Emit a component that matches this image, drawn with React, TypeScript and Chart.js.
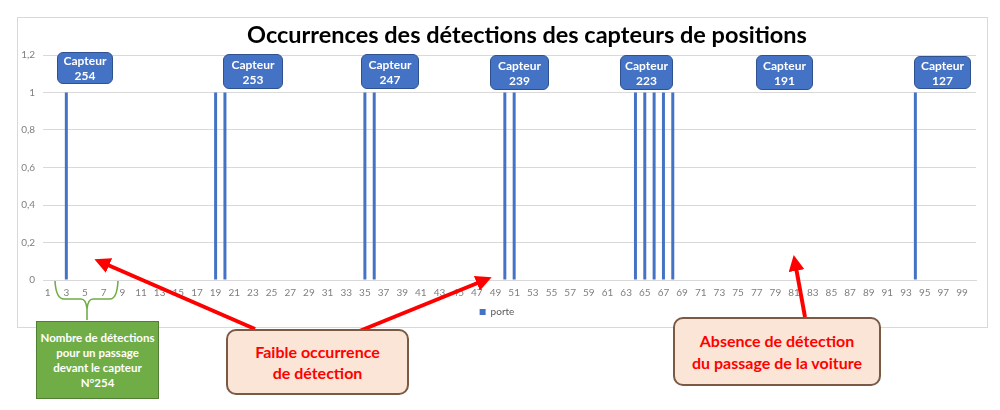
import React, { useEffect, useRef } from 'react';
import { Chart, registerables } from 'chart.js';

Chart.register(...registerables);

const titleText = 'Occurrences des détections des capteurs de positions';
const seriesName = 'porte';

// x categories (passages 1..100)
const positions = [
  '1', '2', '3', '4', '5', '6', '7', '8', '9', '10',
  '11', '12', '13', '14', '15', '16', '17', '18', '19', '20',
  '21', '22', '23', '24', '25', '26', '27', '28', '29', '30',
  '31', '32', '33', '34', '35', '36', '37', '38', '39', '40',
  '41', '42', '43', '44', '45', '46', '47', '48', '49', '50',
  '51', '52', '53', '54', '55', '56', '57', '58', '59', '60',
  '61', '62', '63', '64', '65', '66', '67', '68', '69', '70',
  '71', '72', '73', '74', '75', '76', '77', '78', '79', '80',
  '81', '82', '83', '84', '85', '86', '87', '88', '89', '90',
  '91', '92', '93', '94', '95', '96', '97', '98', '99', '100',
];

// detections (0 / 1)
const porte = [
  0, 0, 1, 0, 0, 0, 0, 0, 0, 0,
  0, 0, 0, 0, 0, 0, 0, 0, 1, 1,
  0, 0, 0, 0, 0, 0, 0, 0, 0, 0,
  0, 0, 0, 0, 1, 1, 0, 0, 0, 0,
  0, 0, 0, 0, 0, 0, 0, 0, 0, 1,
  1, 0, 0, 0, 0, 0, 0, 0, 0, 0,
  0, 0, 0, 1, 1, 1, 1, 1, 0, 0,
  0, 0, 0, 0, 0, 0, 0, 0, 0, 0,
  0, 0, 0, 0, 0, 0, 0, 0, 0, 0,
  0, 0, 0, 1, 0, 0, 0, 0, 0, 0,
];

const yTicks = [0, 0.2, 0.4, 0.6, 0.8, 1, 1.2];

const capteurs = ['254', '253', '247', '239', '223', '191', '127'];

const FONT = 'Lato, "Open Sans", sans-serif';

// callout boxes drawn over the chart (page coordinates)
const capteurBoxes: { left: number; top: number; w: number; h: number }[] = [
  { left: 57, top: 52, w: 56, h: 32 },
  { left: 223, top: 54, w: 60, h: 35 },
  { left: 361, top: 54, w: 58, h: 35 },
  { left: 490, top: 55, w: 59, h: 35 },
  { left: 620, top: 55, w: 53, h: 35 },
  { left: 756, top: 55, w: 57, h: 35 },
  { left: 914, top: 56, w: 57, h: 33 },
];

const App: React.FC = () => {
  const canvasRef = useRef<HTMLCanvasElement | null>(null);

  useEffect(() => {
    const ctx = canvasRef.current?.getContext('2d');
    if (!ctx) return;

    const chart = new Chart(ctx, {
      type: 'bar',
      data: {
        labels: positions,
        datasets: [
          {
            label: seriesName,
            data: porte,
            backgroundColor: '#4472C4',
            borderWidth: 0,
            barPercentage: 0.32,
            categoryPercentage: 1,
          },
        ],
      },
      options: {
        responsive: true,
        maintainAspectRatio: false,
        animation: false,
        layout: { padding: { left: 0, right: 11, top: 37, bottom: 0 } },
        plugins: {
          title: { display: false },
          legend: {
            display: true,
            position: 'bottom',
            labels: {
              boxWidth: 6,
              boxHeight: 6,
              color: '#595959',
              font: { family: FONT, size: 10 },
              padding: 5,
            },
          },
          tooltip: { enabled: false },
        },
        scales: {
          x: {
            grid: { display: false, drawTicks: false },
            border: { display: true, color: '#d9d9d9' },
            ticks: {
              autoSkip: false,
              maxRotation: 0,
              color: '#7f7f7f',
              font: { family: FONT, size: 10 },
              padding: 7,
              callback: (_v, i) => (i % 2 === 0 ? positions[i] : ''),
            },
            afterFit: (s) => {
              s.height = 22;
            },
          },
          y: {
            min: 0,
            max: 1.2,
            afterBuildTicks: (s) => {
              s.ticks = yTicks.map((v) => ({ value: v }));
            },
            grid: { color: '#d9d9d9', drawTicks: false },
            border: { display: false },
            ticks: {
              color: '#7f7f7f',
              font: { family: FONT, size: 10 },
              padding: 8,
              callback: (v) => String(Number(Number(v).toFixed(1))).replace('.', ','),
            },
            afterFit: (s) => {
              s.width = 25;
            },
          },
        },
      },
    });

    return () => chart.destroy();
  }, []);

  return (
    <div style={{ position: 'absolute', left: 0, top: 0, width: 1000, height: 410, background: '#fff', overflow: 'hidden', fontFamily: FONT }}>
      <div
        style={{
          position: 'absolute',
          left: 17,
          top: 17,
          width: 971,
          height: 311,
          border: '1px solid #d9d9d9',
          boxSizing: 'border-box',
          background: '#fff',
        }}
      >
        <div style={{ position: 'relative', width: 969, height: 309 }}>
          <canvas ref={canvasRef} />
        </div>
      </div>

      <div
        style={{
          position: 'absolute',
          left: 227,
          top: 19,
          width: 600,
          textAlign: 'center',
          fontSize: 23.5,
          fontWeight: 700,
          lineHeight: '30px',
          color: '#000',
        }}
      >
        {titleText}
      </div>

      {capteurs.map((c, i) => {
        const b = capteurBoxes[i];
        return (
          <div
            key={c}
            style={{
              position: 'absolute',
              left: b.left,
              top: b.top,
              width: b.w,
              height: b.h,
              boxSizing: 'border-box',
              background: '#4472C4',
              border: '1px solid #2F528F',
              borderRadius: 6,
              color: '#fff',
              fontWeight: 700,
              fontSize: 12,
              lineHeight: '15px',
              display: 'flex',
              flexDirection: 'column',
              alignItems: 'center',
              justifyContent: 'center',
              textAlign: 'center',
            }}
          >
            <div>Capteur</div>
            <div>{c}</div>
          </div>
        );
      })}

      <svg width={1000} height={410} style={{ position: 'absolute', left: 0, top: 0 }}>
        <defs>
          <marker id="head" markerWidth="4" markerHeight="4" refX="2.2" refY="2" orient="auto" markerUnits="strokeWidth">
            <path d="M0,0 L4,2 L0,4 Z" fill="#FF0000" />
          </marker>
        </defs>
        {/* brace under categories 3..7 */}
        <path
          d="M55,281 Q56,299 64,299 L81,299 Q86,299 87,309 L87,320 M87,309 Q88,299 93,299 L110,299 Q117,299 118,281"
          fill="none"
          stroke="#70AD47"
          strokeWidth={1.6}
        />
        <line x1={255} y1={329} x2={101} y2={262} stroke="#FF0000" strokeWidth={4} markerEnd="url(#head)" />
        <line x1={357} y1={332} x2={485} y2={280} stroke="#FF0000" strokeWidth={4} markerEnd="url(#head)" />
        <line x1={805} y1={317} x2={795} y2={262} stroke="#FF0000" strokeWidth={4} markerEnd="url(#head)" />
      </svg>

      <div
        style={{
          position: 'absolute',
          left: 36,
          top: 321,
          width: 123,
          height: 78,
          boxSizing: 'border-box',
          background: '#70AD47',
          border: '1px solid #507E32',
          color: '#fff',
          fontWeight: 700,
          fontSize: 11.5,
          lineHeight: '15px',
          display: 'flex',
          flexDirection: 'column',
          alignItems: 'center',
          justifyContent: 'center',
          textAlign: 'center',
        }}
      >
        <div>Nombre de détections</div>
        <div>pour un passage</div>
        <div>devant le capteur</div>
        <div>N°254</div>
      </div>

      <div
        style={{
          position: 'absolute',
          left: 226,
          top: 329,
          width: 183,
          height: 66,
          boxSizing: 'border-box',
          background: '#FBE5D6',
          border: '2px solid #7A5A45',
          borderRadius: 10,
          color: '#FF0000',
          fontWeight: 700,
          fontSize: 16,
          lineHeight: '21px',
          display: 'flex',
          flexDirection: 'column',
          alignItems: 'center',
          justifyContent: 'center',
          textAlign: 'center',
        }}
      >
        <div>Faible occurrence</div>
        <div>de détection</div>
      </div>

      <div
        style={{
          position: 'absolute',
          left: 673,
          top: 317,
          width: 208,
          height: 69,
          boxSizing: 'border-box',
          background: '#FBE5D6',
          border: '2px solid #7A5A45',
          borderRadius: 10,
          color: '#FF0000',
          fontWeight: 700,
          fontSize: 16,
          lineHeight: '22px',
          display: 'flex',
          flexDirection: 'column',
          alignItems: 'center',
          justifyContent: 'center',
          textAlign: 'center',
        }}
      >
        <div>Absence de détection</div>
        <div>du passage de la voiture</div>
      </div>
    </div>
  );
};

export default App;
